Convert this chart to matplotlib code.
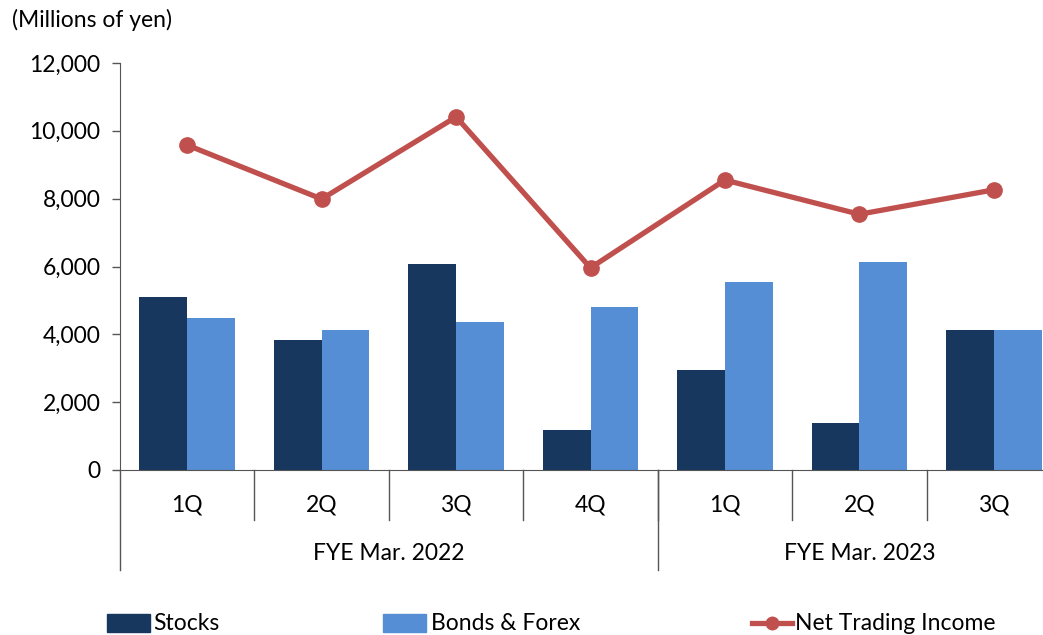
import matplotlib
matplotlib.use("Agg")
import matplotlib.pyplot as plt
import matplotlib.transforms as mtransforms
from matplotlib.lines import Line2D
import numpy as np

quarters = ["1Q", "2Q", "3Q", "4Q", "1Q", "2Q", "3Q"]
years = ["FYE Mar. 2022", "FYE Mar. 2023"]
year_counts = [4, 3]
stocks = [5100, 3830, 6060, 1170, 2960, 1380, 4130]
bonds = [4470, 4130, 4360, 4810, 5550, 6130, 4130]
net_income = [9580, 7990, 10410, 5960, 8550, 7540, 8260]
yticks = [0, 2000, 4000, 6000, 8000, 10000, 12000]

plt.rcParams['font.family'] = ['Lato', 'DejaVu Sans']
FS = 16.5

fig = plt.figure(figsize=(10.43, 6.35), dpi=100)
ax = fig.add_axes([120/1043, 1-470/635, (1061-120)/1043, (470-63)/635])

n = len(quarters)
x = np.arange(n)
w = 0.355
c_st = "#17375E"
c_bd = "#558ED5"
c_ln = "#C0504D"
ax.bar(x - w/2, stocks, width=w, color=c_st, zorder=2)
ax.bar(x + w/2, bonds, width=w, color=c_bd, zorder=2)
ax.plot(x, net_income, color=c_ln, lw=3.8, marker="o", ms=11, zorder=3)

ax.set_xlim(-0.5, n - 0.5)
ax.set_ylim(0, 12000)
ax.set_yticks(yticks)
ax.set_yticklabels([f"{v:,}" for v in yticks], fontsize=FS)
ax.tick_params(axis="y", length=6, width=1, color="#555555", pad=8)
ax.set_xticks([])
for s in ["top", "right"]:
    ax.spines[s].set_visible(False)
ax.spines["left"].set_color("#555555")
ax.spines["bottom"].set_color("#555555")

trans = mtransforms.blended_transform_factory(ax.transData, fig.transFigure)
def fy(py):
    return 1 - py / 635

# quarter separators
for b in range(1, n):
    ax.plot([b - 0.5, b - 0.5], [fy(470), fy(520)], transform=trans, color="#555555", lw=1, clip_on=False)
# year separators
edges = [0] + list(np.cumsum(year_counts))
for e in edges:
    ax.plot([e - 0.5, e - 0.5], [fy(470), fy(570)], transform=trans, color="#555555", lw=1, clip_on=False)
for i, q in enumerate(quarters):
    ax.text(i, fy(505), q, transform=trans, ha="center", va="center", fontsize=FS)
for k, yr in enumerate(years):
    c = (edges[k] + edges[k+1] - 1) / 2
    ax.text(c, fy(553), yr, transform=trans, ha="center", va="center", fontsize=FS)

fig.text(12/1043, fy(20), "(Millions of yen)", ha="left", va="center", fontsize=FS)

labels = ["Stocks", "Bonds & Forex", "Net Trading Income"]
pos = [(107, 153), (383, 431), (752, 795)]
for k, (lab, (px, tx)) in enumerate(zip(labels, pos)):
    if k < 2:
        fig.patches.append(plt.Rectangle((px/1043, fy(632)), 43/1043, 18/635,
                                         transform=fig.transFigure, color=[c_st, c_bd][k]))
    else:
        fig.lines.append(Line2D([px/1043, (px+40)/1043], [fy(623), fy(623)], transform=fig.transFigure,
                                color=c_ln, lw=3.8))
        fig.lines.append(Line2D([(px+20)/1043], [fy(623)], transform=fig.transFigure,
                                color=c_ln, marker="o", ms=9))
    fig.text(tx/1043, fy(623), lab, ha="left", va="center", fontsize=FS)

fig.savefig("out.png", dpi=100)
